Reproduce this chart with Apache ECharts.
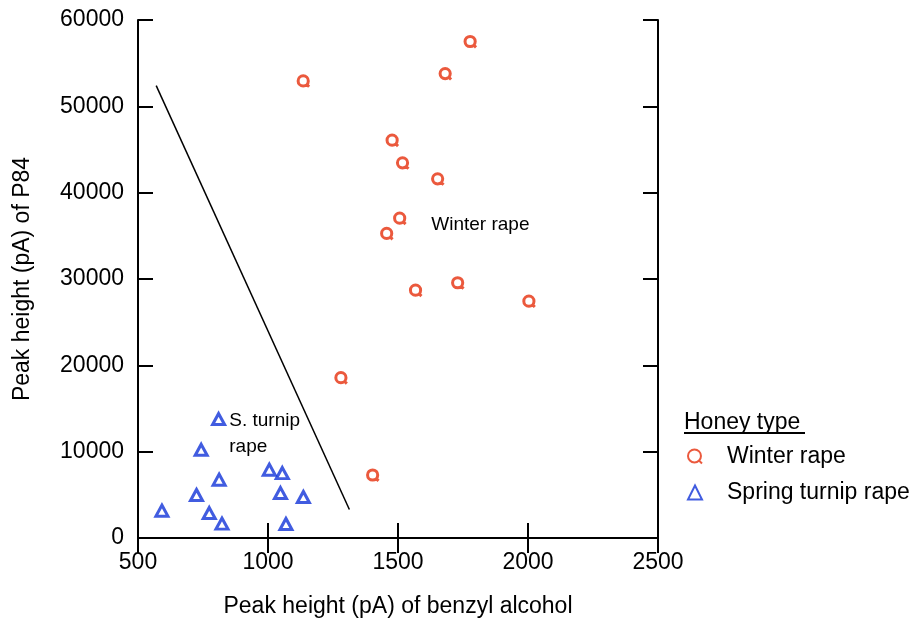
<!DOCTYPE html>
<html>
<head>
<meta charset="utf-8">
<script src="https://cdn.jsdelivr.net/npm/echarts@6/dist/echarts.min.js"></script>
<style>
  html, body { margin: 0; padding: 0; background: #fff; }
  #chart { width: 919px; height: 618px; }
</style>
</head>
<body>
<div id="chart"></div>
<script>
  // winter rape honey samples
  const winterX = [1779, 1683, 1137, 1479, 1519, 1654, 1508, 1458, 1569, 1731, 2005, 1282, 1404]
  const winterY = [57460, 53750, 52900, 46030, 43410, 41560, 37000, 35230, 28660, 29520, 27390, 18520, 7250]

  // spring turnip rape honey samples
  const springX = [810, 743, 812, 725, 592, 774, 823, 1005, 1055, 1048, 1136, 1069]
  const springY = [13780, 10220, 6750, 4980, 3160, 2890, 1660, 7910, 7520, 5210, 4750, 1620]

  // separating line
  const lineX = [570, 1313]
  const lineY = [52400, 3300]

  // text notes inside the plot
  const noteText = ['Winter rape', 'S. turnip\nrape']
  const noteX = [1628, 851]
  const noteY = [36270, 12075]

  const xTicks = [500, 1000, 1500, 2000, 2500]
  const yTicks = [0, 10000, 20000, 30000, 40000, 50000, 60000]

  const RED = '#e6300c'
  const BLUE = '#1233d8'
  const FONT = '"Liberation Sans", Arial, sans-serif'
  const qSymbol = 'path://M10,5 A5,5 0 1,1 0,5 A5,5 0 1,1 10,5 Z M8,8 L10.8,10.8'

  const zip = (xs, ys) => xs.map((x, i) => [x, ys[i]])

  const axisCommon = {
    type: 'value',
    axisLine: { show: true, lineStyle: { color: '#000', width: 2 } },
    axisTick: { show: true, inside: true, length: 15, lineStyle: { color: '#000', width: 2 } },
    splitLine: { show: false },
  }

  const chart = echarts.init(document.getElementById('chart'), null, { renderer: 'canvas' })

  chart.setOption({
    animation: false,
    textStyle: { fontFamily: FONT },
    grid: { left: 138, right: 261, top: 20, bottom: 80, containLabel: false, outerBoundsMode: 'none' },
    xAxis: [
      {
        ...axisCommon,
        position: 'bottom',
        min: xTicks[0],
        max: xTicks[xTicks.length - 1],
        interval: 500,
        axisLabel: { fontSize: 23, color: '#000', margin: 13, fontFamily: FONT, formatter: (v) => String(v) },
        name: 'Peak height (pA) of benzyl alcohol',
        nameLocation: 'middle',
        nameGap: 57,
        nameTextStyle: { fontSize: 23, color: '#000', fontFamily: FONT },
      },
      {
        ...axisCommon,
        position: 'top',
        min: xTicks[0],
        max: xTicks[xTicks.length - 1],
        interval: 500,
        axisLabel: { show: false },
      },
    ],
    yAxis: [
      {
        ...axisCommon,
        position: 'left',
        min: yTicks[0],
        max: yTicks[yTicks.length - 1],
        interval: 10000,
        axisLabel: { fontSize: 23, color: '#000', margin: 14, fontFamily: FONT, formatter: (v) => String(v) },
        name: 'Peak height (pA) of P84',
        nameLocation: 'middle',
        nameGap: 104,
        nameTextStyle: { fontSize: 23, color: '#000', fontFamily: FONT },
      },
      {
        ...axisCommon,
        position: 'right',
        min: yTicks[0],
        max: yTicks[yTicks.length - 1],
        interval: 10000,
        axisLabel: { show: false },
      },
    ],
    legend: {
      orient: 'vertical',
      left: 682,
      top: 440,
      padding: 5,
      itemWidth: 14,
      itemHeight: 14,
      itemGap: 13,
      data: ['Winter rape', 'Spring turnip rape'],
      textStyle: { fontSize: 23, color: '#000', fontFamily: FONT, padding: [0, 0, 0, 20] },
    },
    graphic: [
      {
        type: 'text',
        left: 684,
        top: 411,
        style: { text: 'Honey type', fontSize: 23, fill: '#000', fontFamily: FONT },
      },
      {
        type: 'line',
        shape: { x1: 684, y1: 433, x2: 805, y2: 433 },
        style: { stroke: '#000', lineWidth: 2 },
      },
    ],
    series: [
      {
        name: 'boundary',
        type: 'line',
        data: zip(lineX, lineY),
        symbol: 'none',
        lineStyle: { color: '#000', width: 1.5 },
        silent: true,
        z: 1,
      },
      {
        name: 'Winter rape',
        type: 'scatter',
        data: zip(winterX, winterY),
        symbol: qSymbol,
        symbolSize: 11,
        itemStyle: { color: 'rgba(255,255,255,0)', borderColor: RED, borderWidth: 3 },
        markPoint: {
          symbol: 'circle',
          symbolSize: 0,
          silent: true,
          label: {
            show: true,
            position: 'right',
            distance: 0,
            color: '#000',
            fontSize: 19,
            fontFamily: FONT,
            lineHeight: 26,
            formatter: (p) => p.name,
          },
          data: noteText.map((t, i) => ({ name: t, coord: [noteX[i], noteY[i]] })),
        },
        z: 3,
      },
      {
        name: 'Spring turnip rape',
        type: 'scatter',
        data: zip(springX, springY),
        symbol: 'triangle',
        symbolSize: [12, 11],
        itemStyle: { color: 'rgba(255,255,255,0)', borderColor: BLUE, borderWidth: 3 },
        z: 3,
      },
    ],
  })
</script>
</body>
</html>
